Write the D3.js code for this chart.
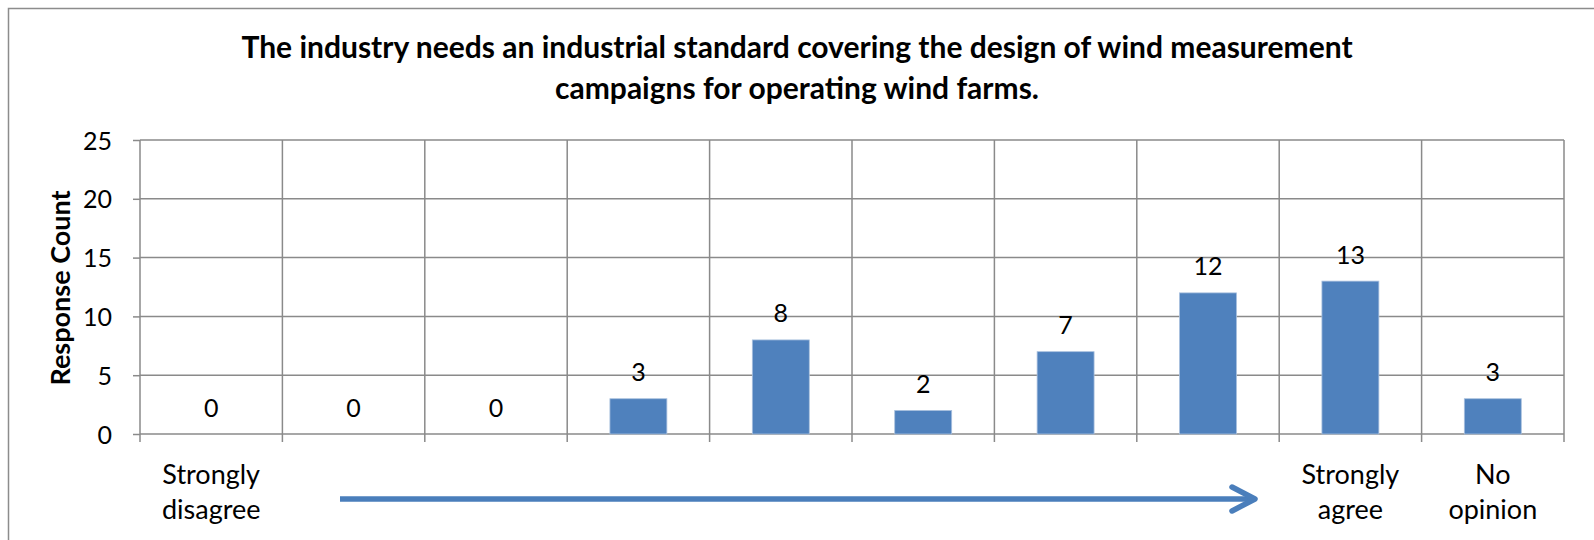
<!DOCTYPE html>
<html>
<head>
<meta charset="utf-8">
<script src="https://cdn.jsdelivr.net/npm/d3@7"></script>
<style>
  html, body { margin: 0; padding: 0; background: #fff; }
  svg { display: block; }
  text { font-family: Lato, "Open Sans", sans-serif; fill: #000; }
</style>
</head>
<body>
<svg id="chart" width="1594" height="540"></svg>
<script>
// ---- data ----
const categoryIds = [1, 2, 3, 4, 5, 6, 7, 8, 9, 10];
const categoryLabels = [["Strongly", "disagree"], [], [], [], [], [], [], [], ["Strongly", "agree"], ["No", "opinion"]];
const responseCounts = [0, 0, 0, 3, 8, 2, 7, 12, 13, 3];
const yTicks = [0, 5, 10, 15, 20, 25];
const titleLines = ["The industry needs an industrial standard covering the design of wind measurement", "campaigns for operating wind farms."];
const yAxisTitle = "Response Count";

// ---- layout ----
const W = 1594, H = 540;
const plot = { left: 140, right: 1564, top: 140, bottom: 434 };
const gridColor = "#8a8a8a";
const barColor = "#4f81bd";

const svg = d3.select("#chart");
svg.append("rect").attr("width", W).attr("height", H).attr("fill", "#fff");

// outer chart border (left & top visible)
svg.append("path")
  .attr("d", `M8.5,${H} V8.5 H${W}`)
  .attr("fill", "none").attr("stroke", "#8c8c8c").attr("stroke-width", 1.5);

const x = d3.scaleBand().domain(categoryIds).range([plot.left, plot.right])
  .paddingInner(0.6).paddingOuter(0.3);
const step = x.step();
const y = d3.scaleLinear().domain([0, 25]).range([plot.bottom, plot.top]);

// horizontal gridlines + y ticks
const yAxis = d3.axisLeft(y).tickValues(yTicks).tickSize(7).tickPadding(21);
const gy = svg.append("g").attr("transform", `translate(${plot.left},0)`).call(yAxis);
gy.select(".domain").remove();
gy.selectAll(".tick line").attr("stroke", gridColor).attr("stroke-width", 1.5);
gy.selectAll(".tick text").attr("font-size", 25).attr("dy", "0.36em")
  .style("font-family", "Lato, sans-serif").attr("fill", "#000");

svg.append("g").selectAll("line").data(yTicks).join("line")
  .attr("x1", plot.left).attr("x2", plot.right)
  .attr("y1", d => y(d)).attr("y2", d => y(d))
  .attr("stroke", gridColor).attr("stroke-width", 1.5);

// vertical gridlines at category boundaries (extend below axis as ticks)
const boundaries = d3.range(categoryIds.length + 1);
svg.append("g").selectAll("line").data(boundaries).join("line")
  .attr("x1", i => plot.left + i * step).attr("x2", i => plot.left + i * step)
  .attr("y1", plot.top).attr("y2", plot.bottom + 8)
  .attr("stroke", gridColor).attr("stroke-width", 1.5);

// bars
svg.append("g").selectAll("rect").data(categoryIds).join("rect")
  .attr("x", d => x(d)).attr("width", x.bandwidth())
  .attr("y", (d, i) => y(responseCounts[i]))
  .attr("height", (d, i) => y(0) - y(responseCounts[i]))
  .attr("fill", barColor).attr("stroke", "#a9c0de").attr("stroke-width", 0.8);

// data labels
svg.append("g").selectAll("text").data(categoryIds).join("text")
  .attr("x", d => x(d) + x.bandwidth() / 2)
  .attr("y", (d, i) => y(responseCounts[i]) - 17.5)
  .attr("text-anchor", "middle").attr("font-size", 25)
  .text((d, i) => responseCounts[i]);

// category labels
const xl = svg.append("g").selectAll("text").data(categoryIds).join("text")
  .attr("text-anchor", "middle").attr("font-size", 27);
xl.each(function(d, i) {
  const cx = x(d) + x.bandwidth() / 2;
  d3.select(this).selectAll("tspan").data(categoryLabels[i]).join("tspan")
    .attr("x", cx).attr("y", (t, j) => 483.5 + j * 35.5).text(t => t);
});

// y-axis title
svg.append("text")
  .attr("transform", `translate(70,${(plot.top + plot.bottom) / 2 + 1}) rotate(-90)`)
  .attr("text-anchor", "middle").attr("font-size", 27).attr("font-weight", "bold")
  .text(yAxisTitle);

// chart title
svg.append("g").selectAll("text").data(titleLines).join("text")
  .attr("x", W / 2).attr("y", (d, i) => 58 + i * 40.5)
  .attr("text-anchor", "middle").attr("font-size", 30).attr("font-weight", "bold")
  .text(d => d);

// arrow annotation (scale direction)
const arrowY = 499, arrowX0 = 340, arrowX1 = 1255;
const arrow = svg.append("g").attr("stroke", "#4a7ebb").attr("fill", "none")
  .attr("stroke-width", 5.5).attr("stroke-linecap", "round").attr("stroke-linejoin", "round");
arrow.append("line").attr("x1", arrowX0).attr("x2", arrowX1 - 2).attr("y1", arrowY).attr("y2", arrowY)
  .attr("stroke-linecap", "butt");
arrow.append("path")
  .attr("d", `M${arrowX1 - 23},${arrowY - 12} L${arrowX1},${arrowY} L${arrowX1 - 23},${arrowY + 12}`);
</script>
</body>
</html>
